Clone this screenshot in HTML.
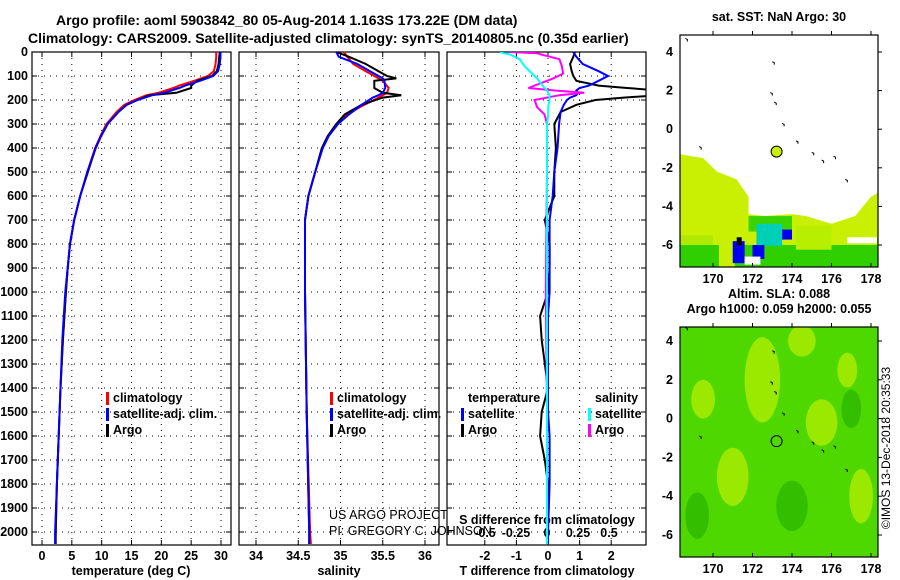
<!DOCTYPE html>
<html><head><meta charset="utf-8"><style>
body{margin:0;background:#fff;}
svg{display:block;font-family:"Liberation Sans",Arial,sans-serif;}
.t{font-weight:bold;font-size:14px;}
.tk{font-weight:bold;font-size:12.5px;}
.lg{font-weight:bold;font-size:12.5px;}
</style></head><body>
<svg id="s" width="900" height="580" viewBox="0 0 900 580" xmlns="http://www.w3.org/2000/svg">
<text class="t" x="56" y="25">Argo profile: aoml 5903842_80 05-Aug-2014 1.163S 173.22E (DM data)</text>
<text class="t" x="28" y="43">Climatology: CARS2009. Satellite-adjusted climatology: synTS_20140805.nc (0.35d earlier)</text>
<text x="890" y="448" transform="rotate(-90 890 448)" text-anchor="middle" style="font-size:12px">©IMOS 13-Dec-2018 20:35:33</text>
<g id="g"></g>
</svg>
<script>
// ---- data ----
const depthT=[0,20,50,80,100,120,140,150,170,180,200,220,250,300,350,400,500,600,700,800,900,1000,1200,1400,1600,1800,2000,2050];
const tempArgo=[29.8,29.7,29.6,29.3,28.5,26,25,25,22.5,18,16,14.2,12.8,11,9.9,9.0,7.7,6.4,5.4,4.7,4.3,4.0,3.5,3.1,2.8,2.5,2.3,2.3];
const tempClim=[29.2,29.2,29.1,28.8,27.8,25.5,23,22,19.5,17.5,15.5,13.8,12.5,10.8,9.8,8.9,7.6,6.4,5.4,4.7,4.3,4.0,3.5,3.1,2.8,2.5,2.3,2.2];
const tempSat=[29.9,29.9,29.8,29.5,28.7,26.5,24,23,20.5,18.5,16,14.2,12.8,11,9.9,9.0,7.6,6.4,5.4,4.7,4.3,3.9,3.4,3.1,2.8,2.5,2.2,2.2];
const depthS=[0,20,50,80,100,110,120,150,170,180,190,220,260,300,350,400,500,600,700,1000,1500,2000,2050];
const salArgo=[34.95,35.1,35.3,35.45,35.55,35.66,35.4,35.4,35.5,35.72,35.5,35.25,35.05,34.95,34.85,34.78,34.7,34.62,34.58,34.58,34.6,34.63,34.63];
const salClim=[35.04,35.08,35.15,35.3,35.4,35.45,35.5,35.57,35.55,35.5,35.45,35.28,35.08,34.95,34.85,34.78,34.7,34.62,34.58,34.58,34.6,34.64,34.65];
const salSat=[34.95,34.98,35.2,35.35,35.45,35.5,35.52,35.53,35.5,35.45,35.38,35.25,35.1,34.97,34.86,34.79,34.7,34.62,34.58,34.58,34.6,34.63,34.63];
const depthD=[0,20,50,80,100,120,140,150,160,170,180,190,200,220,250,300,400,500,600,700,800,900,1000,1100,1200,1400,1500,1600,1700,1800,2000,2050];
const dTArgo=[0.85,0.8,0.7,0.75,0.8,0.9,1.6,2.5,3.5,3.5,3.5,2.4,1.5,0.9,0.4,0.2,0.25,0.2,0.2,-0.1,0.05,0.05,0,-0.25,-0.2,0,-0.2,-0.25,-0.1,0,0,0];
const dTSat=[0.8,0.9,1.1,1.6,1.9,1.6,1.3,1.0,0.9,0.95,0.9,0.7,0.6,0.5,0.4,0.35,0.3,0.2,0.15,0.05,0.05,0.05,0.05,0,0,0,0,0.05,0.05,0.05,0,0];
const depthSD=[0,5,10,30,60,90,110,130,150,160,170,180,200,230,260,300,500,1000,1500,2000,2050];
const dSArgo=[-0.3,-0.08,-0.05,0.1,0.12,0.13,0.05,-0.05,-0.15,0.05,0.3,0.1,-0.1,-0.08,-0.02,0,0,-0.01,0,0,0];
const dSSat=[-0.38,-0.35,-0.3,-0.22,-0.18,-0.12,-0.08,-0.05,-0.02,0,0.01,0.02,0.02,0.01,0.01,0,0,0,0,0,0];
const tTicks=[0,5,10,15,20,25,30];
const sTicks=["34","34.5","35","35.5","36"];
const dTTicks=[-2,-1,0,1,2];
const dSTicks=["-0.5","-0.25","0","0.25","0.5"];
const depthTicks=[0,100,200,300,400,500,600,700,800,900,1000,1100,1200,1300,1400,1500,1600,1700,1800,1900,2000];
const lonTicks=[170,172,174,176,178];
const latTicks=[4,2,0,-2,-4,-6];

const NS='http://www.w3.org/2000/svg';
const G=document.getElementById('g');
function mk(tag,at,par){const e=document.createElementNS(NS,tag);for(const k in at)e.setAttribute(k,at[k]);(par||G).appendChild(e);return e;}
const TOP=52,BOT=545;
const yD=d=>TOP+d*0.24;
const xT=v=>42+v*(179/30);
const xS=v=>256+(v-34)*84.5;
const xDT=v=>548+v*31.6;
const xDS=v=>547+v*124;
const P=[[32,231],[239,439],[447,646]];

P.forEach((p,i)=>{
  const fr=mk('rect',{x:p[0],y:TOP,width:p[1]-p[0],height:BOT-TOP,fill:'none',stroke:'#000','stroke-width':1.2});
  
  
  depthTicks.forEach(d=>{
    const l=mk('line',{x1:p[0],x2:p[1],y1:yD(d),y2:yD(d),stroke:'#000','stroke-dasharray':'1 5','stroke-width':1});
    
    
    mk('line',{x1:p[0],x2:p[0]+5,y1:yD(d),y2:yD(d),stroke:'#000'});
    mk('line',{x1:p[1]-5,x2:p[1],y1:yD(d),y2:yD(d),stroke:'#000'});
  });
});
depthTicks.forEach(d=>{
  const t=mk('text',{x:28,y:yD(d)+4,'text-anchor':'end',class:'tk'});t.textContent=d;
  
  
});
function vgrid(xs,fx,p,labels,ly){
  xs.forEach((v,i)=>{
    const x=fx(+v);
    const l=mk('line',{x1:x,x2:x,y1:TOP,y2:BOT,stroke:'#000','stroke-dasharray':'1 5'});
    
    
    mk('line',{x1:x,x2:x,y1:BOT-5,y2:BOT,stroke:'#000'});
    mk('line',{x1:x,x2:x,y1:TOP,y2:TOP+5,stroke:'#000'});
    if(labels){const t=mk('text',{x:x,y:ly,'text-anchor':'middle',class:'tk'});t.textContent=labels[i];
      
      }
  });
}
vgrid(tTicks,xT,P[0],tTicks,560);
vgrid(sTicks,xS,P[1],sTicks,560);
vgrid(dTTicks,xDT,P[2],dTTicks,560);
dSTicks.forEach(v=>{const t=mk('text',{x:xDS(+v),y:537,'text-anchor':'middle',class:'tk'});t.textContent=v;
  
  });
[['temperature (deg C)',131,575],['salinity',339,575],['T difference from climatology',547,575],['S difference from climatology',547,524]].forEach(a=>{
  const t=mk('text',{x:a[1],y:a[2],'text-anchor':'middle',class:'tk'});t.textContent=a[0];
  
  
});
const cp=mk('clipPath',{id:'c3'});mk('rect',{x:447,y:TOP,width:199,height:BOT-TOP},cp);
function line(ds,vs,fx,col,name,clip,w){
  const d=ds.map((z,i)=>(i?'L':'M')+fx(vs[i]).toFixed(1)+','+yD(z).toFixed(1)).join('');
  const at={d:d,fill:'none',stroke:col,'stroke-width':w||2};
  if(clip)at['clip-path']='url(#c3)';
  const e=mk('path',at);
  
  
}
line(depthT,tempClim,xT,'#f00','temp-climatology-line');
line(depthT,tempArgo,xT,'#000','temp-argo-line');
line(depthT,tempSat,xT,'#00f','temp-satellite-line');
line(depthS,salClim,xS,'#f00','sal-climatology-line');
line(depthS,salArgo,xS,'#000','sal-argo-line');
line(depthS,salSat,xS,'#00f','sal-satellite-line');
line(depthD,dTArgo,xDT,'#000','tdiff-argo-line',1);
line(depthD,dTSat,xDT,'#00f','tdiff-satellite-line',1);
line(depthSD,dSArgo,xDS,'#f0f','sdiff-argo-line',1);
line(depthSD,dSSat,xDS,'#0ff','sdiff-satellite-line',1);

function leg(x,y,col,txt,name){
  if(col)mk('rect',{x:x,y:y-10,width:3,height:13,fill:col});
  const t=mk('text',{x:x+7,y:y,class:'lg'});t.textContent=txt;
  
  
}
leg(106,402,'#f00','climatology','legend-climatology');
leg(106,418,'#00f','satellite-adj. clim.','legend-satellite');
leg(106,434,'#000','Argo','legend-argo');
leg(330,402,'#f00','climatology','legend-climatology');
leg(330,418,'#00f','satellite-adj. clim.','legend-satellite');
leg(330,434,'#000','Argo','legend-argo');
leg(461,402,null,'temperature','legend-temperature-head');
leg(461,418,'#00f','satellite','legend-t-satellite');
leg(461,434,'#000','Argo','legend-t-argo');
leg(588,402,null,'salinity','legend-salinity-head');
leg(588,418,'#0ff','satellite','legend-s-satellite');
leg(588,434,'#f0f','Argo','legend-s-argo');
[['US ARGO PROJECT',329,519],['PI: GREGORY C. JOHNSON',329,535]].forEach(a=>{
  const t=mk('text',{x:a[1],y:a[2],style:'font-size:12.5px'});t.textContent=a[0];
  
  
});

function map(x0,y0,w,h,lat4,latm6,title,kind){
  const g=mk('g',{});
  
  
  const xL=v=>713+(v-170)*19.75;
  const yL=v=>lat4+(4-v)*(latm6-lat4)/10;
  const cid='cm'+kind;const c=mk('clipPath',{id:cid},g);mk('rect',{x:x0,y:y0,width:w,height:h},c);
  const inner=mk('g',{'clip-path':'url(#'+cid+')'},g);
  if(kind==='sst'){
    mk('path',{d:`M${x0},${yL(-1.3)} L${xL(169.5)},${yL(-1.5)} L${xL(170.2)},${yL(-2.2)} L${xL(171.2)},${yL(-2.6)} L${xL(171.8)},${yL(-3.5)} L${xL(171.8)},${yL(-4.4)} L${xL(172.6)},${yL(-4.5)} L${xL(174)},${yL(-4.4)} L${xL(174.7)},${yL(-4.5)} L${xL(176)},${yL(-4.9)} L${xL(177.2)},${yL(-4.5)} L${xL(178)},${yL(-3.5)} L${x0+w},${yL(-3.3)} L${x0+w},${y0+h} L${x0},${y0+h}Z`,fill:'#c8f000'},inner);
    mk('rect',{x:xL(171.8),y:yL(-4.5),width:xL(174)-xL(171.8),height:yL(-5.3)-yL(-4.5),fill:'#3cd400'},inner);
    mk('rect',{x:x0,y:yL(-6),width:w,height:y0+h-yL(-6),fill:'#30d000'},inner);
    mk('rect',{x:x0,y:yL(-5.5),width:xL(170)-x0,height:yL(-6)-yL(-5.5),fill:'#b0ea00'},inner);
    mk('rect',{x:xL(170.3),y:yL(-5.9),width:xL(171.1)-xL(170.3),height:34,fill:'#c8f000'},inner);
    mk('rect',{x:xL(174.2),y:yL(-5),width:xL(176)-xL(174.2),height:24,fill:'#b8ee00'},inner);
    mk('rect',{x:xL(172.2),y:yL(-4.9),width:xL(173.5)-xL(172.2),height:22,fill:'#00cfb8'},inner);
    mk('rect',{x:xL(171),y:yL(-5.8),width:xL(171.6)-xL(171),height:22,fill:'#0000f0'},inner);
    mk('rect',{x:xL(172),y:yL(-6),width:xL(172.6)-xL(172),height:14,fill:'#0000f0'},inner);
    mk('rect',{x:xL(173.5),y:yL(-5.2),width:xL(174)-xL(173.5),height:10,fill:'#0000f0'},inner);
    mk('rect',{x:xL(171.2),y:yL(-5.6),width:5,height:8,fill:'#000'},inner);
    mk('rect',{x:xL(171.6),y:yL(-6.6),width:xL(172.4)-xL(171.6),height:8,fill:'#fff'},inner);
    mk('rect',{x:xL(176.8),y:yL(-5.6),width:xL(178.3)-xL(176.8),height:6,fill:'#fff'},inner);
  } else {
    mk('rect',{x:x0,y:y0,width:w,height:h,fill:'#4fd800'},inner);
    [[172.5,2,0.9,2.2],[171,-3,0.8,1.5],[175.5,-0.2,0.8,1.2],[177.5,-4,0.6,1.4],[169.5,1,0.6,1],[174.5,4,0.7,0.8],[176.8,2.5,0.5,0.9]].forEach(b=>{
      mk('ellipse',{cx:xL(b[0]),cy:yL(b[1]),rx:b[2]*19.75,ry:b[3]*19.4,fill:'#a8ec00',opacity:0.85},inner);
    });
    [[174,-4.5,0.8,1.3],[169.2,-5,0.6,1.2],[177,0.5,0.5,1]].forEach(b=>{
      mk('ellipse',{cx:xL(b[0]),cy:yL(b[1]),rx:b[2]*19.75,ry:b[3]*19.4,fill:'#2cb800',opacity:0.8},inner);
    });
  }
  [[173,3.5],[172.9,1.9],[173.1,1.4],[173.5,0.3],[174.2,-0.6],[175,-1.2],[175.5,-1.6],[176.1,-1.4],[176.7,-2.6],[169.3,-0.9],[168.6,4.7]].forEach(p=>{
    mk('path',{d:`M${xL(p[0])},${yL(p[1])} l2,1 l0,2`,fill:'none',stroke:'#000','stroke-width':1},inner);
  });
  mk('circle',{cx:xL(173.22),cy:yL(-1.163),r:5.5,fill:kind==='sst'?'#c8f000':'none',stroke:'#000','stroke-width':1},inner);
  mk('rect',{x:x0,y:y0,width:w,height:h,fill:'none',stroke:'#000','stroke-width':1.2},g);
  lonTicks.forEach(v=>{
    mk('line',{x1:xL(v),x2:xL(v),y1:y0+h-4,y2:y0+h,stroke:'#000'},g);
    mk('line',{x1:xL(v),x2:xL(v),y1:y0-4,y2:y0,stroke:'#000'},g);
    const t=mk('text',{x:xL(v),y:y0+h+16,'text-anchor':'middle',class:'tk'},g);t.textContent=v;
  });
  latTicks.forEach(v=>{
    mk('line',{x1:x0+w,x2:x0+w+4,y1:yL(v),y2:yL(v),stroke:'#000'},g);
    const t=mk('text',{x:x0-7,y:yL(v)+4,'text-anchor':'end',class:'tk'},g);t.textContent=v;
  });
  title.forEach((s,i)=>{const t=mk('text',{x:x0+w/2,y:y0-14-(title.length-1-i)*15,'text-anchor':'middle',class:'tk'},g);t.textContent=s;});
}
map(680,35,198,232,52,245,['sat. SST: NaN Argo: 30'],'sst');
map(680,327,198,230,341,535,['Altim. SLA: 0.088','Argo h1000: 0.059 h2000: 0.055'],'sla');
</script>
</body></html>
